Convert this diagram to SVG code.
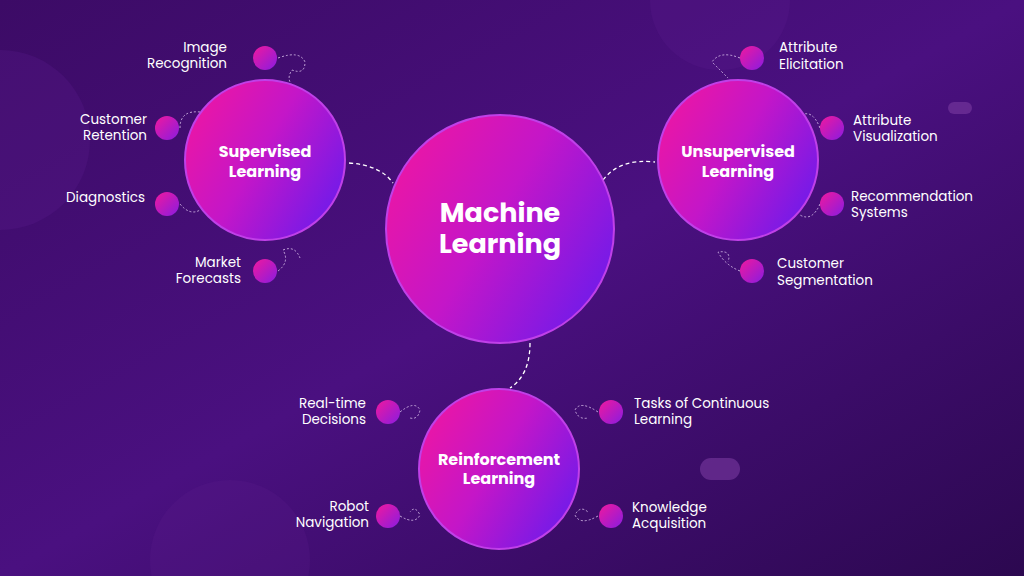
<svg xmlns="http://www.w3.org/2000/svg" width="1024" height="576" viewBox="0 0 1024 576">
<defs>
<linearGradient id="bg" x1="0" y1="0" x2="1" y2="1"><stop offset="0" stop-color="#3c0b66"/><stop offset="0.5" stop-color="#4a1080"/><stop offset="1" stop-color="#2c0850"/></linearGradient>
<linearGradient id="big" x1="0" y1="0" x2="1" y2="0.6"><stop offset="0" stop-color="#f5169c"/><stop offset="0.55" stop-color="#c416c8"/><stop offset="1" stop-color="#7a1ae6"/></linearGradient>
<linearGradient id="dot" x1="0" y1="0" x2="1" y2="1"><stop offset="0" stop-color="#f0189e"/><stop offset="1" stop-color="#8a1ce0"/></linearGradient>
<style>
.t{font-family:Poppins,Lato,"Noto Sans",sans-serif;font-size:13.5px;fill:#fff}
.e{text-anchor:end}
.h{font-family:Poppins,Lato,"Noto Sans",sans-serif;font-weight:700;fill:#fff;text-anchor:middle}
.dash{fill:none;stroke:#fff;stroke-width:1.3;stroke-dasharray:4 3}
.dots{fill:none;stroke:#e0c8f0;stroke-width:1;stroke-dasharray:2 2;opacity:0.8}
.ring{stroke:#c040e8;stroke-width:2}
</style>
</defs>
<rect width="1024" height="576" fill="url(#bg)"/>
<circle cx="0" cy="140" r="90" fill="#5a1a8a" opacity="0.3"/>
<circle cx="720" cy="0" r="70" fill="#5a1a8a" opacity="0.3"/>
<circle cx="230" cy="560" r="80" fill="#5a1a8a" opacity="0.25"/>
<rect x="700" y="458" width="40" height="22" rx="11" fill="#7a3aa0" opacity="0.6"/>
<rect x="948" y="102" width="24" height="12" rx="6" fill="#7a3aa0" opacity="0.6"/>
<g id="connectors">
<path class="dash" d="M349 163 Q380 165 393 183"/>
<path class="dash" d="M603 180 Q620 158 655 162"/>
<path class="dash" d="M530 343 Q530 375 510 388"/>
<path class="dots" d="M278 58 Q300 50 305 62 Q305 75 292 70 Q285 80 295 88"/>
<path class="dots" d="M180 128 Q180 110 200 112"/>
<path class="dots" d="M180 204 Q190 216 200 210"/>
<path class="dots" d="M278 271 Q290 262 283 250 Q295 245 300 258"/>
<path class="dots" d="M740 58 Q720 50 712 62 Q722 72 728 78"/>
<path class="dots" d="M820 128 Q812 108 800 116"/>
<path class="dots" d="M820 204 Q812 222 800 215"/>
<path class="dots" d="M740 271 Q725 265 718 252 Q732 250 728 262"/>
<path class="dots" d="M400 412 Q415 400 420 410 Q418 420 410 418"/>
<path class="dots" d="M598 412 Q580 400 575 410 Q578 420 588 418"/>
<path class="dots" d="M400 516 Q415 525 420 515 Q415 505 410 512"/>
<path class="dots" d="M598 516 Q580 526 575 515 Q580 505 588 512"/>
</g>
<g id="ml"><circle class="ring" cx="500" cy="229" r="114" fill="url(#big)"/><text class="h" x="500" y="222" font-size="27">Machine</text><text class="h" x="500" y="253" font-size="27">Learning</text></g>
<g id="sup"><circle class="ring" cx="265" cy="160" r="80" fill="url(#big)"/><text class="h" x="265" y="157" font-size="16">Supervised</text><text class="h" x="265" y="177" font-size="16">Learning</text></g>
<g id="unsup"><circle class="ring" cx="738" cy="160" r="80" fill="url(#big)"/><text class="h" x="738" y="157" font-size="16">Unsupervised</text><text class="h" x="738" y="177" font-size="16">Learning</text></g>
<g id="rein"><circle class="ring" cx="499" cy="469" r="80" fill="url(#big)"/><text class="h" x="499" y="465" font-size="16">Reinforcement</text><text class="h" x="499" y="484" font-size="16">Learning</text></g>
<g id="n1"><circle cx="265" cy="58" r="12" fill="url(#dot)"/><text class="t e" x="227" y="52">Image</text><text class="t e" x="227" y="68">Recognition</text></g>
<g id="n2"><circle cx="167" cy="128" r="12" fill="url(#dot)"/><text class="t e" x="147" y="124">Customer</text><text class="t e" x="147" y="140">Retention</text></g>
<g id="n3"><circle cx="167" cy="204" r="12" fill="url(#dot)"/><text class="t e" x="145" y="202">Diagnostics</text></g>
<g id="n4"><circle cx="265" cy="271" r="12" fill="url(#dot)"/><text class="t e" x="241" y="267">Market</text><text class="t e" x="241" y="283">Forecasts</text></g>
<g id="n5"><circle cx="752" cy="58" r="12" fill="url(#dot)"/><text class="t" x="779" y="52">Attribute</text><text class="t" x="779" y="69">Elicitation</text></g>
<g id="n6"><circle cx="832" cy="128" r="12" fill="url(#dot)"/><text class="t" x="853" y="125">Attribute</text><text class="t" x="853" y="141">Visualization</text></g>
<g id="n7"><circle cx="832" cy="204" r="12" fill="url(#dot)"/><text class="t" x="851" y="201">Recommendation</text><text class="t" x="851" y="217">Systems</text></g>
<g id="n8"><circle cx="752" cy="271" r="12" fill="url(#dot)"/><text class="t" x="777" y="268">Customer</text><text class="t" x="777" y="285">Segmentation</text></g>
<g id="n9"><circle cx="388" cy="412" r="12" fill="url(#dot)"/><text class="t e" x="366" y="408">Real-time</text><text class="t e" x="366" y="424">Decisions</text></g>
<g id="n10"><circle cx="611" cy="412" r="12" fill="url(#dot)"/><text class="t" x="634" y="408">Tasks of Continuous</text><text class="t" x="634" y="424">Learning</text></g>
<g id="n11"><circle cx="388" cy="516" r="12" fill="url(#dot)"/><text class="t e" x="369" y="511">Robot</text><text class="t e" x="369" y="527">Navigation</text></g>
<g id="n12"><circle cx="611" cy="516" r="12" fill="url(#dot)"/><text class="t" x="632" y="512">Knowledge</text><text class="t" x="632" y="528">Acquisition</text></g>
</svg>
